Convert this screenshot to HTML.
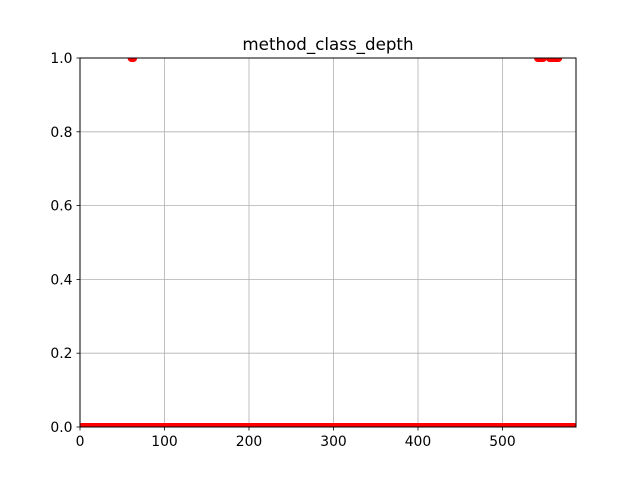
<!DOCTYPE html>
<html><head><meta charset="utf-8"><style>
body{margin:0;background:#fff}
svg text{font-family:"DejaVu Sans","Liberation Sans",sans-serif;font-size:13.9px;fill:#000}
</style></head><body>
<svg id="chart" width="640" height="480">
<rect width="640" height="480" fill="#fff"/>
<defs><clipPath id="clip"><rect x="80" y="58" width="496" height="369"/></clipPath></defs>
<g id="grid"></g>
<g id="marks" clip-path="url(#clip)"></g>
<rect x="80" y="58" width="496" height="369" fill="none" stroke="#000" stroke-width="1"/>
<g id="ticks"></g>
<text x="328" y="50" text-anchor="middle" style="font-size:16.7px">method_class_depth</text>
</svg>
<script>
const pointCount = 588;
const oneIndices = [61,62,63,542,543,544,545,546,547,548,556,557,558,559,560,561,562,563,564,565,566];
const xTicks = [0,100,200,300,400,500];
const yTicks = [0.0,0.2,0.4,0.6,0.8,1.0];
const yLabels = ["0.0","0.2","0.4","0.6","0.8","1.0"];
const xMin=0,xMax=587,yMin=0,yMax=1;
const X=v=>80+(v-xMin)/(xMax-xMin)*496;
const Y=v=>427-(v-yMin)/(yMax-yMin)*369;
const NS="http://www.w3.org/2000/svg";
function mk(t,a,p){const e=document.createElementNS(NS,t);for(const k in a)e.setAttribute(k,a[k]);p.appendChild(e);return e;}
const grid=document.getElementById('grid'),ticks=document.getElementById('ticks'),marks=document.getElementById('marks');
xTicks.forEach(v=>{
 const g=mk('line',{x1:X(v),x2:X(v),y1:58,y2:427,stroke:'#b0b0b0','stroke-width':0.8},grid);
 
 
 mk('line',{x1:X(v),x2:X(v),y1:427,y2:430.5,stroke:'#000','stroke-width':0.8},ticks);
 const t=mk('text',{x:X(v),y:446,'text-anchor':'middle'},ticks);t.textContent=v;
 
 
});
yTicks.forEach((v,i)=>{
 const g=mk('line',{x1:80,x2:576,y1:Y(v),y2:Y(v),stroke:'#b0b0b0','stroke-width':0.8},grid);
 
 
 mk('line',{x1:76.5,x2:80,y1:Y(v),y2:Y(v),stroke:'#000','stroke-width':0.8},ticks);
 const t=mk('text',{x:72.5,y:Y(v)+5,'text-anchor':'end'},ticks);t.textContent=yLabels[i];
 
 
});
for(let i=0;i<pointCount;i++){
 const c=mk('circle',{cx:X(i),cy:Y(0),r:4,fill:'#ff0000'},marks);
 
 
}
oneIndices.forEach(i=>{
 const c=mk('circle',{cx:X(i),cy:Y(1),r:4,fill:'#ff0000'},marks);
 
 
});
</script>
</body></html>
